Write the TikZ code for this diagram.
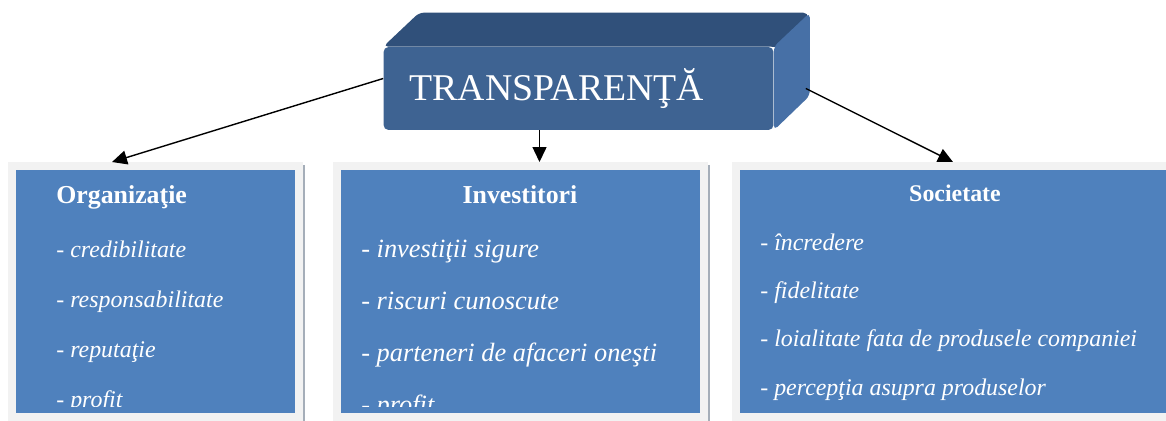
\documentclass[tikz,border=0pt]{standalone}
\usepackage{fontspec}
\setmainfont{Liberation Serif}
\usetikzlibrary{arrows.meta,positioning,backgrounds}
\definecolor{frontblue}{HTML}{3E6392}
\definecolor{topblue}{HTML}{30507A}
\definecolor{sideblue}{HTML}{4770A6}
\definecolor{panelblue}{HTML}{4F81BD}
\definecolor{framegray}{HTML}{F2F2F2}
\definecolor{shadegray}{HTML}{A5AEB9}

\begin{document}
\begin{tikzpicture}[x=0.02cm,y=-0.02cm]
\tikzstyle{every node}=[text=white]
\tikzstyle{panel}=[draw=framegray,fill=panelblue,line width=0.16cm,minimum height=5.02cm]
\tikzstyle{head}=[font=\fontsize{14.7}{16}\selectfont\bfseries,inner sep=0pt]
\tikzstyle{item}=[font=\fontsize{13.6}{16}\selectfont,inner sep=0pt,anchor=base west]
\tikzstyle{link}=[draw=black,line width=0.8pt,-{Triangle[length=0.3cm,width=0.28cm]}]
\useasboundingbox (0,0) rectangle (1166,421);
\clip (0,0) rectangle (1166,421);

% top block with its 3d faces
\node[fill=frontblue,rounded corners=0.1cm,minimum height=1.66cm,text width=6.76cm,
      inner xsep=0.52cm,align=left,font=\fontsize{21.5}{24}\selectfont] (trans) at (578.5,88.5) {\raisebox{0.1cm}{TRANSPARENŢĂ}};
\begin{scope}[on background layer]
\fill[topblue,rounded corners=0.1cm] (trans.north west) -- ++(36,-34) -- ++(389,0) -- ++(0,40) -- (trans.north east) -- cycle;
\fill[sideblue,rounded corners=0.1cm] (trans.north east) -- ++(36,-34) -- ++(0,83) -- (trans.south east) -- cycle;
\end{scope}
\coordinate (tright) at ([xshift=0.64cm]trans.east);

% panels
\node[panel,minimum width=5.74cm] (org) at (155.5,291.5) {};
\node[panel,minimum width=7.34cm] (inv) at (520.5,291.5) {};
\node[panel,minimum width=9.08cm] (soc) at (963,291.5) {};
\draw[shadegray,line width=0.04cm] (304,165) -- (304,421);
\draw[shadegray,line width=0.04cm] (709,165) -- (709,421);

% texts
\begin{scope}
\clip (0,170) rectangle (1166,407);
\node[head,anchor=base west] (orgtitle) at (56,204) {Organizaţie};
\foreach \t [count=\i] in {credibilitate,responsabilitate,reputaţie,profit}
  \node[item] (orgitem\i) at (56,{208+50*\i}) {- \textit{\t}};
\node[head,anchor=base] (invtitle) at (520,204) {Investitori};
\foreach \t [count=\i] in {investiţii sigure,riscuri cunoscute,parteneri de afaceri oneşti,profit}
  \node[item,font=\fontsize{15}{18}\selectfont] (invitem\i) at (361,{206+52*\i}) {- \textit{\t}};
\node[head,anchor=base,font=\fontsize{13.6}{16}\selectfont\bfseries] (soctitle) at (955,202) {Societate};
\foreach \t [count=\i] in {încredere,fidelitate,loialitate fata de produsele companiei,percepţia asupra produselor}
  \node[item] (socitem\i) at (760,{202+48.3*\i}) {- \textit{\t}};
\end{scope}

% arrows
\draw[link] ([yshift=0.2cm]trans.west) -- ([xshift=2.08cm]org.north west);
\draw[link] ([xshift=-0.78cm]trans.south) -- ([xshift=-0.78cm]trans.south |- inv.north);
\draw[link] (tright) -- ([xshift=4.42cm]soc.north west);
\end{tikzpicture}
\end{document}
